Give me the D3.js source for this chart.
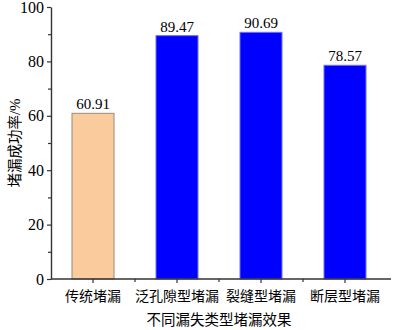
<!DOCTYPE html>
<html>
<head>
<meta charset="utf-8">
<script src="https://cdn.jsdelivr.net/npm/d3@7"></script>
<style>
  body { margin: 0; background: #fff; }
  svg text { font-family: "Liberation Serif", "Noto Sans CJK SC", serif; fill: #000; }
</style>
</head>
<body>
<div id="chart"></div>
<script>
// data
const categories = ["传统堵漏", "泛孔隙型堵漏", "裂缝型堵漏", "断层型堵漏"];
const values = [60.91, 89.47, 90.69, 78.57];
const barColors = ["#FACB9C", "#0000FF", "#0000FF", "#0000FF"];
const barStrokes = ["#9a8a7a", "#6f6fff", "#6f6fff", "#6f6fff"];
const yTicks = [0, 20, 40, 60, 80, 100];
const yMinorTicks = [10, 30, 50, 70, 90];

const width = 393, height = 330;
const margin = {top: 7, right: 6, bottom: 51, left: 51};

const svg = d3.select("#chart").append("svg")
  .attr("width", width)
  .attr("height", height);

const x = d3.scaleBand()
  .domain(categories)
  .range([margin.left, margin.left + 336])
  .paddingInner(0.5)
  .paddingOuter(0.25);

const xOuter = d3.scaleBand()
  .domain(categories)
  .range([margin.left, margin.left + 336]);

const y = d3.scaleLinear()
  .domain([0, 100])
  .range([height - margin.bottom, margin.top]);

// bars
svg.append("g").selectAll("rect")
  .data(values)
  .enter()
  .append("rect")
  .attr("x", (d, i) => x(categories[i]))
  .attr("y", d => y(d))
  .attr("width", x.bandwidth())
  .attr("height", d => y(0) - y(d))
  .attr("fill", (d, i) => barColors[i])
  .attr("stroke", (d, i) => barStrokes[i])
  .attr("stroke-width", 1);

// value labels
svg.append("g").selectAll("text")
  .data(values)
  .enter()
  .append("text")
  .attr("x", (d, i) => x(categories[i]) + x.bandwidth() / 2)
  .attr("y", d => y(d) - 4)
  .attr("text-anchor", "middle")
  .attr("font-size", 15)
  .text(d => d.toFixed(2));

const axisColor = "#333";

// y axis
const yAxis = svg.append("g")
  .attr("transform", "translate(" + margin.left + ",0)")
  .call(d3.axisLeft(y).tickValues(yTicks).tickSize(4).tickPadding(3).tickSizeOuter(0));
svg.append("g")
  .attr("transform", "translate(" + margin.left + ",0)")
  .call(d3.axisLeft(y).tickValues(yMinorTicks).tickSize(3).tickFormat("").tickSizeOuter(0))
  .select(".domain").remove();

// x axis
const xAxis = svg.append("g")
  .attr("transform", "translate(0," + y(0) + ")")
  .call(d3.axisBottom(xOuter).tickSize(4).tickPadding(5).tickSizeOuter(0));
svg.append("g")
  .attr("transform", "translate(0," + y(0) + ")")
  .selectAll("line")
  .data(categories.slice(1))
  .enter()
  .append("line")
  .attr("x1", d => xOuter(d))
  .attr("x2", d => xOuter(d))
  .attr("y1", 0)
  .attr("y2", 3)
  .attr("stroke", axisColor)
  .attr("stroke-width", 1.2);

svg.selectAll(".domain").attr("stroke", axisColor).attr("stroke-width", 1.4);
svg.selectAll(".tick line").attr("stroke", axisColor).attr("stroke-width", 1.2);
yAxis.selectAll(".tick text").attr("font-size", 16).attr("font-family", "Liberation Serif");
xAxis.selectAll(".tick text").attr("font-size", 14).attr("dy", "0.9em")
  .attr("font-family", "'Noto Sans CJK SC', sans-serif");
// extend x axis line slightly to the right
xAxis.select(".domain").attr("d", "M" + margin.left + ",0H" + (margin.left + 340));

// axis titles
svg.append("text")
  .attr("x", (margin.left + margin.left + 336) / 2)
  .attr("y", 325)
  .attr("text-anchor", "middle")
  .attr("font-size", 14.5)
  .attr("font-family", "'Noto Sans CJK SC', sans-serif")
  .text("不同漏失类型堵漏效果");

const yTitle = svg.append("text")
  .attr("transform", "translate(20," + ((y(0) + y(100)) / 2) + ") rotate(-90)")
  .attr("text-anchor", "middle")
  .attr("font-size", 14.5);
yTitle.append("tspan")
  .attr("font-family", "'Noto Sans CJK SC', sans-serif")
  .text("堵漏成功率");
yTitle.append("tspan")
  .attr("font-family", "Liberation Serif")
  .attr("font-size", 15)
  .text("/%");
</script>
</body>
</html>
